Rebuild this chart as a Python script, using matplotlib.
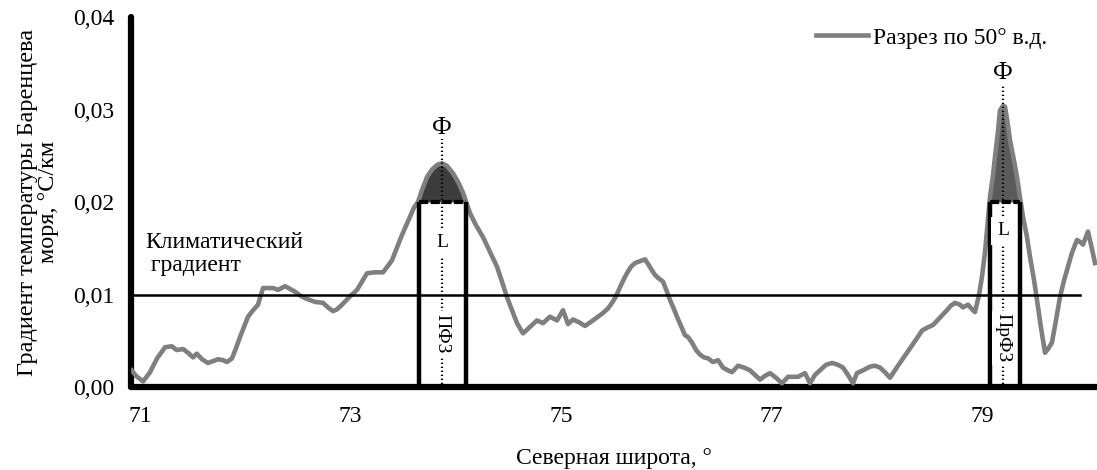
import numpy as np
import matplotlib
matplotlib.use("Agg")
import matplotlib.pyplot as plt

plt.rcParams['font.family'] = ['Liberation Serif', 'DejaVu Serif']

# широта и градиент (разрез по 50° в.д.)
lat = [70.921, 70.962, 71.029, 71.095, 71.162, 71.238, 71.301, 71.349, 71.409, 71.456,
       71.504, 71.539, 71.589, 71.646, 71.694, 71.741, 71.789, 71.827, 71.874, 71.912,
       71.950, 71.988, 72.026, 72.074, 72.121, 72.169, 72.216, 72.264, 72.311, 72.378,
       72.425, 72.473, 72.520, 72.568, 72.615, 72.663, 72.739, 72.786, 72.834, 72.872,
       72.919, 72.995, 73.062, 73.109, 73.157, 73.233, 73.309, 73.356, 73.394, 73.432,
       73.470, 73.518, 73.565, 73.603, 73.641, 73.679, 73.727, 73.774, 73.822, 73.869,
       73.917, 73.974, 74.021, 74.069, 74.135, 74.192, 74.259, 74.325, 74.392, 74.439,
       74.487, 74.534, 74.582, 74.639, 74.705, 74.772, 74.829, 74.895, 74.962, 75.019,
       75.067, 75.114, 75.171, 75.228, 75.304, 75.352, 75.399, 75.447, 75.485, 75.523,
       75.561, 75.599, 75.627, 75.665, 75.703, 75.751, 75.798, 75.827, 75.865, 75.894,
       75.922, 75.969, 76.007, 76.036, 76.074, 76.102, 76.140, 76.178, 76.207, 76.245,
       76.283, 76.321, 76.359, 76.397, 76.444, 76.492, 76.539, 76.587, 76.625, 76.682,
       76.739, 76.796, 76.843, 76.891, 76.938, 76.986, 77.043, 77.100, 77.157, 77.204,
       77.252, 77.318, 77.366, 77.413, 77.461, 77.518, 77.575, 77.632, 77.679, 77.727,
       77.774, 77.812, 77.869, 77.936, 77.983, 78.031, 78.078, 78.126, 78.202, 78.287,
       78.335, 78.390, 78.430, 78.477, 78.534, 78.601, 78.667, 78.705, 78.743, 78.791,
       78.819, 78.867, 78.905, 78.933, 78.971, 79.000, 79.029, 79.048, 79.076, 79.105,
       79.124, 79.152, 79.171, 79.200, 79.219, 79.247, 79.266, 79.304, 79.333, 79.361,
       79.390, 79.428, 79.456, 79.494, 79.523, 79.561, 79.599, 79.627, 79.665, 79.703,
       79.741, 79.779, 79.817, 79.855, 79.903, 79.931, 79.960, 80.007, 80.036, 80.074]
grad = [0.0018, 0.0012, 0.0006, 0.0016, 0.0031, 0.0043, 0.0044, 0.0040, 0.0041, 0.0037,
        0.0032, 0.0036, 0.0030, 0.0026, 0.0028, 0.0030, 0.0029, 0.0027, 0.0031, 0.0042,
        0.0054, 0.0065, 0.0076, 0.0083, 0.0089, 0.0107, 0.0107, 0.0107, 0.0105, 0.0109,
        0.0106, 0.0103, 0.0099, 0.0096, 0.0094, 0.0092, 0.0091, 0.0086, 0.0082, 0.0084,
        0.0089, 0.0098, 0.0105, 0.0114, 0.0123, 0.0124, 0.0124, 0.0131, 0.0137, 0.0148,
        0.0159, 0.0172, 0.0184, 0.0194, 0.0200, 0.0213, 0.0227, 0.0235, 0.0240, 0.0242,
        0.0239, 0.0231, 0.0222, 0.0210, 0.0188, 0.0175, 0.0162, 0.0146, 0.0130, 0.0114,
        0.0097, 0.0083, 0.0069, 0.0058, 0.0065, 0.0072, 0.0069, 0.0076, 0.0072, 0.0083,
        0.0068, 0.0073, 0.0070, 0.0066, 0.0072, 0.0076, 0.0080, 0.0085, 0.0091, 0.0098,
        0.0108, 0.0117, 0.0123, 0.0130, 0.0134, 0.0136, 0.0138, 0.0133, 0.0126, 0.0121,
        0.0118, 0.0114, 0.0103, 0.0094, 0.0084, 0.0076, 0.0066, 0.0056, 0.0054, 0.0048,
        0.0040, 0.0035, 0.0032, 0.0031, 0.0027, 0.0029, 0.0021, 0.0018, 0.0016, 0.0023,
        0.0021, 0.0018, 0.0013, 0.0008, 0.0012, 0.0015, 0.0010, 0.0004, 0.0011, 0.0011,
        0.0011, 0.0015, 0.0004, 0.0013, 0.0018, 0.0024, 0.0026, 0.0024, 0.0021, 0.0013,
        0.0004, 0.0015, 0.0018, 0.0022, 0.0023, 0.0021, 0.0016, 0.0010, 0.0023, 0.0037,
        0.0045, 0.0054, 0.0061, 0.0064, 0.0067, 0.0075, 0.0083, 0.0088, 0.0091, 0.0089,
        0.0086, 0.0089, 0.0084, 0.0081, 0.0099, 0.0119, 0.0146, 0.0170, 0.0205, 0.0229,
        0.0249, 0.0276, 0.0299, 0.0304, 0.0303, 0.0283, 0.0267, 0.0245, 0.0227, 0.0205,
        0.0184, 0.0162, 0.0141, 0.0116, 0.0094, 0.0064, 0.0037, 0.0041, 0.0048, 0.0072,
        0.0097, 0.0115, 0.0130, 0.0145, 0.0159, 0.0157, 0.0154, 0.0168, 0.0154, 0.0134]

clim_grad = 0.01          # климатический градиент
clim_end = 79.93
front_level = 0.02
# фронтальные зоны: (левая граница, правая граница, ось, подпись, цвет заливки, ...)
zones = [(73.651, 74.097, 73.869, 'ПФЗ', '#3c3c3c', 0.0268, 0.0280, 0.0156, 0.0058),
         (79.076, 79.361, 79.200, 'ПрФЗ', '#5a5a5a', 0.0325, 0.0340, 0.0169, 0.0053)]

fig = plt.figure(figsize=(10.97, 4.70), dpi=100)
ax = fig.add_axes([0.1194, 0.1766, 0.8806, 0.7872])

lat = np.array(lat)
grad = np.array(grad)

ax.plot(lat, grad, color='#7f7f7f', lw=3.3, label='Разрез по 50° в.д.', zorder=3,
        solid_joinstyle='round')
ax.plot([lat[0] - 0.01, clim_end], [clim_grad, clim_grad], color='black', lw=1.8, zorder=4)

for x0, x1, xc, name, col, dot_top, phi_y, l_y, n_y in zones:
    xx = np.linspace(x0, x1, 200)
    yy = np.interp(xx, lat, grad)
    ax.fill_between(xx, front_level, yy, where=yy >= front_level, color=col, zorder=2, lw=0)
    ax.plot([x0, x0], [0, front_level], color='black', lw=3.2, zorder=5, solid_capstyle='butt')
    ax.plot([x1, x1], [0, front_level], color='black', lw=3.2, zorder=5, solid_capstyle='butt')
    ax.plot([x0, x1], [front_level, front_level], color='black', lw=3.0, zorder=5,
            linestyle=(0, (2.2, 0.6)))
    ax.plot([xc, xc], [0.0003, dot_top], color='black', lw=1.6, linestyle=(0, (0.6, 1.2)), zorder=6)
    ax.text(xc, phi_y, 'Ф', ha='center', va='center', fontsize=18, zorder=7)
    ax.text(xc, l_y, 'L', ha='center', va='center', fontsize=14, zorder=7,
            bbox=dict(facecolor='white', edgecolor='none', pad=4))
    ax.text(xc, n_y, name, ha='center', va='center', fontsize=14, rotation=-90, zorder=7,
            bbox=dict(facecolor='white', edgecolor='none', pad=2))

ax.text(71.05, 0.0168, 'Климатический\n градиент', ha='left', va='top', fontsize=17,
        linespacing=1.15, zorder=7)

ax.set_xlim(70.914, 80.093)
ax.set_ylim(0, 0.04)
ax.set_xticks([71, 73, 75, 77, 79])
ax.set_yticks([0, 0.01, 0.02, 0.03, 0.04])
ax.set_yticklabels(['0,00', '0,01', '0,02', '0,03', '0,04'], fontsize=17)
ax.set_xticklabels(['71', '73', '75', '77', '79'], fontsize=17)
ax.tick_params(length=0)
ax.tick_params(axis='y', pad=12)
ax.tick_params(axis='x', pad=14)

for s in ['top', 'right']:
    ax.spines[s].set_visible(False)
for s in ['left', 'bottom']:
    ax.spines[s].set_linewidth(4.5)
    ax.spines[s].set_capstyle('round')

ax.set_xlabel('Северная широта, °', fontsize=17, labelpad=15)
ax.set_ylabel('Градиент температуры Баренцева\nморя, °С/км', fontsize=17.5, labelpad=10,
              linespacing=1.0)

ax.legend(loc='upper right', bbox_to_anchor=(0.97, 1.03), frameon=False, fontsize=17,
          handlelength=2.2, handletextpad=0.2)

fig.savefig('out.png', dpi=100)
